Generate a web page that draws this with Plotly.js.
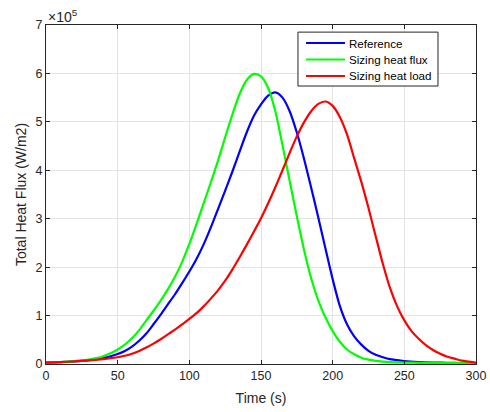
<!DOCTYPE html>
<html>
<head>
<meta charset="utf-8">
<script src="https://cdn.plot.ly/plotly-3.0.1.min.js"></script>
<style>html,body{margin:0;padding:0;background:#fff;} #chart{width:490px;height:412px;}</style>
</head>
<body>
<div id="chart"></div>
<script>
// Time in seconds; heat flux in units of 1e5 W/m2
const timeRef = [0,10,20,25,30,35,40,45,50,55,60,65,70,75,80,85,90,95,100,105,110,115,120,125,130,135,140,145,150,155,160,165,170,175,180,185,190,195,200,205,210,215,220,225,230,235,240,245,250,260,270,280,290,300];
const fluxRef = [0.03,0.04,0.055,0.065,0.08,0.10,0.125,0.16,0.205,0.27,0.36,0.48,0.63,0.82,1.02,1.23,1.44,1.67,1.91,2.17,2.47,2.82,3.20,3.58,3.97,4.38,4.78,5.12,5.36,5.54,5.61,5.50,5.22,4.78,4.24,3.64,3.02,2.38,1.75,1.20,0.82,0.57,0.40,0.27,0.19,0.14,0.10,0.08,0.06,0.04,0.03,0.025,0.02,0.02];

const timeFlux = [0,10,20,25,30,35,40,45,50,55,60,65,70,75,80,85,90,95,100,105,110,115,120,125,130,135,140,145,150,155,160,165,170,175,180,185,190,195,200,205,210,215,220,225,230,235,240,250,260,280,300];
const fluxFlux = [0.03,0.04,0.06,0.075,0.09,0.12,0.16,0.22,0.30,0.40,0.53,0.70,0.90,1.10,1.31,1.54,1.80,2.11,2.48,2.89,3.32,3.75,4.20,4.68,5.15,5.57,5.86,5.99,5.94,5.70,5.22,4.52,3.78,3.05,2.36,1.77,1.31,0.96,0.68,0.46,0.30,0.20,0.13,0.09,0.065,0.05,0.04,0.03,0.025,0.02,0.02];

const timeLoad = [0,10,20,30,35,40,45,50,55,60,65,70,75,80,85,90,95,100,105,110,115,120,125,130,135,140,145,150,155,160,165,170,175,180,185,190,195,200,205,210,215,220,225,230,235,240,245,250,255,260,265,270,275,280,285,290,295,300];
const fluxLoad = [0.03,0.04,0.055,0.075,0.087,0.10,0.12,0.14,0.17,0.21,0.27,0.34,0.42,0.51,0.61,0.71,0.82,0.93,1.05,1.19,1.35,1.52,1.72,1.95,2.20,2.46,2.73,3.01,3.32,3.65,4.00,4.36,4.70,4.99,5.22,5.37,5.42,5.33,5.10,4.74,4.25,3.76,3.22,2.64,2.07,1.57,1.19,0.90,0.68,0.52,0.39,0.29,0.21,0.15,0.11,0.07,0.05,0.03];

const xTicks = [0,50,100,150,200,250,300];
const yTicks = [0,1,2,3,4,5,6,7];

const names = ['Reference','Sizing heat flux','Sizing heat load'];
const colors = ['#0000ff','#00ff00','#ff0000'];

const traces = [
  {x: timeRef, y: fluxRef},
  {x: timeFlux, y: fluxFlux},
  {x: timeLoad, y: fluxLoad}
].map((d,i)=>({
  x: d.x, y: d.y, type:'scatter', mode:'lines', name: names[i], showlegend:false,
  line:{color: colors[i], width: 2.2, shape:'spline', smoothing:0.8}
}));

const FONT = 'Liberation Sans, Arial, sans-serif';
const axCommon = {
  showline:true, linecolor:'#262626', linewidth:1, mirror:'ticks',
  ticks:'inside', ticklen:4, tickcolor:'#262626', tickwidth:1,
  showgrid:true, gridcolor:'#e3e3e3', gridwidth:1, zeroline:false,
  tickfont:{family:FONT, size:12.5, color:'#262626'}
};
const titleFont = {family:FONT, size:14, color:'#262626'};

// Legend drawn in paper coordinates
const legX0 = 0.586, legX1 = 0.9116, legY0 = 0.820, legY1 = 0.979;
const legRows = [0.9469, 0.8982, 0.8496];
const shapes = [{type:'rect', xref:'paper', yref:'paper', x0:legX0, x1:legX1, y0:legY0, y1:legY1,
  line:{color:'#262626', width:1}, fillcolor:'#ffffff', layer:'above'}];
const annotations = [{
  xref:'paper', yref:'paper', x:0, y:1, xanchor:'left', yanchor:'bottom',
  text:'×10<sup>5</sup>', showarrow:false, yshift:-2,
  font:{family:FONT, size:14, color:'#262626'}
}];
names.forEach((n,i)=>{
  shapes.push({type:'line', xref:'paper', yref:'paper', x0:0.6047, x1:0.6953, y0:legRows[i], y1:legRows[i],
    line:{color:colors[i], width:2.2}, layer:'above'});
  annotations.push({xref:'paper', yref:'paper', x:0.707, y:legRows[i], xanchor:'left', yanchor:'middle',
    xshift:-2, borderpad:0,
    text:n, showarrow:false, font:{family:FONT, size:11.6, color:'#000000'}});
});

const layout = {
  width:490, height:412,
  margin:{l:46, r:14, t:25, b:48, pad:0},
  paper_bgcolor:'#ffffff', plot_bgcolor:'#ffffff',
  showlegend:false,
  font:{family:FONT, color:'#262626'},
  xaxis: Object.assign({}, axCommon, {
    range:[0,300], tickvals:xTicks, ticktext:xTicks.map(String),
    title:{text:'Time (s)', standoff:11, font:titleFont}
  }),
  yaxis: Object.assign({}, axCommon, {
    range:[0,7], tickvals:yTicks, ticktext:yTicks.map(String),
    title:{text:'Total Heat Flux (W/m2)', standoff:5, font:titleFont}
  }),
  shapes: shapes,
  annotations: annotations
};

Plotly.newPlot('chart', traces, layout, {displayModeBar:false, staticPlot:true});
</script>
</body>
</html>
